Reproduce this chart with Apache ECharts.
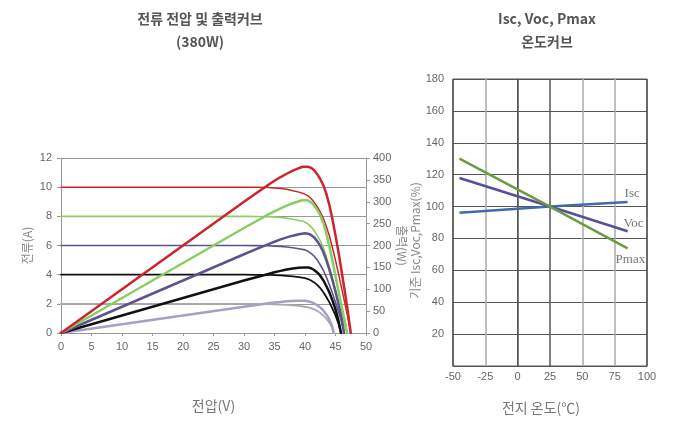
<!DOCTYPE html>
<html>
<head>
<meta charset="utf-8">
<script src="https://cdn.jsdelivr.net/npm/echarts@6/dist/echarts.min.js"></script>
<style>
  html, body { margin: 0; padding: 0; background: #fff; }
  #chart { width: 678px; height: 422px; }
</style>
</head>
<body>
<div id="chart"></div>
<script>
// I-V / P-V curves of a 380 W module at five irradiance levels ([voltage V, value])
const ivRed = [[0,10],[30,10],[32,9.99],[34,9.97],[35,9.95],[36,9.91],[37,9.85],[38,9.76],[39,9.66],[39.7,9.57],[40.5,9.4],[41,9.22],[41.5,8.97],[42,8.66],[42.5,8.3],[43,7.87],[43.5,7.3],[44,6.65],[44.5,5.85],[45,4.98],[45.5,4.05],[46,3.08],[46.5,2.1],[47,1.1],[47.5,0]];
const pvRed = [[0,0],[10,100],[20,200],[30,300],[32,319.5],[34,339],[35,348],[36,356.5],[37,364],[38,371],[39,377],[39.7,380],[40.5,380],[41,377.5],[41.5,372],[42,363],[42.5,352],[43,338],[43.5,318],[44,292],[44.5,260],[45,223],[45.5,184],[46,141],[46.5,97],[47,51],[47.5,0]];
const ivGreen = [[0,8],[30,8],[32,7.99],[34,7.97],[35,7.95],[36,7.92],[37,7.87],[38,7.8],[39,7.72],[39.7,7.66],[40.5,7.48],[41,7.28],[41.5,7.02],[42,6.7],[42.5,6.32],[43,5.85],[43.5,5.22],[44,4.5],[44.5,3.72],[45,2.9],[45.5,2.1],[46,1.32],[46.5,0.6],[46.9,0]];
const pvGreen = [[0,0],[10,80],[20,160],[30,240],[32,255.5],[34,271],[35,278],[36,285],[37,291],[38,296.5],[39,301],[39.7,304],[40.5,303],[41,298.5],[41.5,291],[42,281.5],[42.5,268.5],[43,251.5],[43.5,227],[44,198],[44.5,165.5],[45,130.5],[45.5,95.5],[46,61],[46.5,28],[46.9,0]];
const ivPurple = [[0,6],[30,6],[32,5.99],[34,5.98],[35,5.96],[36,5.94],[37,5.9],[38,5.85],[39,5.78],[40,5.7],[40.5,5.6],[41,5.46],[41.5,5.26],[42,5.0],[42.5,4.68],[43,4.3],[43.5,3.83],[44,3.3],[44.5,2.72],[45,2.1],[45.5,1.45],[46,0.75],[46.4,0]];
const pvPurple = [[0,0],[10,60],[20,120],[30,180],[32,191.5],[34,203],[35,208.5],[36,214],[37,218.5],[38,222.5],[39,225.5],[40,228],[40.5,227],[41,224],[41.5,218.5],[42,210],[42.5,199],[43,185],[43.5,166.5],[44,145],[44.5,121],[45,94.5],[45.5,66],[46,34.5],[46.4,0]];
const ivBlack = [[0,4],[30,4],[32,3.99],[34,3.98],[35,3.97],[36,3.95],[37,3.92],[38,3.88],[39,3.83],[40,3.76],[40.5,3.7],[41,3.6],[41.5,3.47],[42,3.3],[42.5,3.08],[43,2.8],[43.5,2.47],[44,2.1],[44.5,1.67],[45,1.2],[45.5,0.62],[45.9,0]];
const pvBlack = [[0,0],[10,40],[20,80],[30,120],[32,127.5],[34,135],[35,139],[36,142],[37,145],[38,147.5],[39,149],[40,150],[40.5,150],[41,148],[41.5,144],[42,138.5],[42.5,131],[43,120.5],[43.5,107.5],[44,92.5],[44.5,74.5],[45,54],[45.5,28],[45.9,0]];
const ivLight = [[0,2],[30,2],[32,1.99],[34,1.98],[35,1.97],[36,1.95],[37,1.93],[38,1.9],[39,1.86],[40,1.8],[40.5,1.76],[41,1.7],[41.5,1.62],[42,1.52],[42.5,1.38],[43,1.2],[43.5,0.98],[44,0.7],[44.4,0.4],[44.7,0]];
const pvLight = [[0,0],[10,20],[20,40],[30,60],[32,64],[34,68],[35,69.5],[36,71],[37,72.3],[38,73.3],[39,74],[39.5,74],[40,73.6],[40.5,72.5],[41,70.5],[41.5,67.5],[42,63.5],[42.5,58.5],[43,51.5],[43.5,42.5],[44,31],[44.4,18],[44.7,0]];

// Temperature coefficients, percent of the 25 °C value ([cell temperature °C, %])
const tempIsc = [[-45,96.1],[25,100],[85,102.8]];
const tempVoc = [[-45,117.9],[25,100],[85,84.5]];
const tempPmax = [[-45,130],[25,100],[85,73.8]];

const ivTicksX = [0,5,10,15,20,25,30,35,40,45,50];
const tempTicksX = [-50,-25,0,25,50,75,100];

const LABEL = { color: '#666', fontSize: 11, fontFamily: 'Liberation Sans, Arial, sans-serif' };
const NAME = { color: '#888', fontSize: 12, fontFamily: 'Noto Sans CJK KR, sans-serif' };

function curve(data, color, width, yIdx) {
  return {
    type: 'line', xAxisIndex: 0, yAxisIndex: yIdx, data: data,
    showSymbol: false, smooth: false,
    lineStyle: { color: color, width: width, join: 'round', cap: 'round' }, z: yIdx === 1 ? 4 : 3
  };
}
function tempLine(data, color, text, off) {
  return {
    type: 'line', xAxisIndex: 1, yAxisIndex: 2, data: data,
    showSymbol: false, lineStyle: { color: color, width: 2.5 },
    endLabel: { show: true, formatter: text, distance: 0, offset: off,
      color: '#777', fontSize: 13, fontFamily: 'Liberation Serif, Times New Roman, serif' }
  };
}

const chart = echarts.init(document.getElementById('chart'), null, { renderer: 'canvas' });
chart.setOption({
  animation: false,
  backgroundColor: '#fff',
  title: [
    { text: '전류 전압 및 출력커브\n(380W)', left: 195, top: 2, textAlign: 'center',
      textStyle: { fontSize: 14, fontWeight: 'bold', color: '#555', lineHeight: 23, fontFamily: 'Noto Sans CJK KR, sans-serif' } },
    { text: 'Isc, Voc, Pmax\n온도커브', left: 542, top: 2, textAlign: 'center',
      textStyle: { fontSize: 14, fontWeight: 'bold', color: '#555', lineHeight: 23, fontFamily: 'Noto Sans CJK KR, sans-serif' } }
  ],
  grid: [
    { left: 61, width: 305, top: 158, height: 175 },
    { left: 453, width: 194, top: 79, height: 287, show: true, borderColor: '#555', borderWidth: 1 }
  ],
  xAxis: [
    { type: 'value', gridIndex: 0, min: 0, max: 50, interval: 5,
      name: '전압(V)', nameLocation: 'middle', nameGap: 66,
      nameTextStyle: Object.assign({}, NAME, { fontSize: 14, color: '#777' }),
      axisLine: { lineStyle: { color: '#999' } },
      axisTick: { show: true, length: 3, lineStyle: { color: '#999' } },
      axisLabel: Object.assign({ margin: 8, formatter: v => ivTicksX.includes(v) ? String(v) : '' }, LABEL),
      splitLine: { show: false } },
    { type: 'value', gridIndex: 1, min: -50, max: 100, interval: 25,
      name: '전지 온도(℃)', nameLocation: 'middle', nameGap: 35,
      nameTextStyle: Object.assign({}, NAME, { fontSize: 14, color: '#777', padding: [0, 18, 0, 0] }),
      axisLine: { lineStyle: { color: '#555' } },
      axisTick: { show: false },
      axisLabel: Object.assign({ margin: 5, formatter: v => tempTicksX.includes(v) ? String(v) : '' }, LABEL),
      splitLine: { show: true, lineStyle: { color: ['#555', '#aaa', '#555', '#555', '#aaa', '#aaa', '#555'], width: 1.5 } } }
  ],
  yAxis: [
    { type: 'value', gridIndex: 0, min: 0, max: 12, interval: 2, position: 'left',
      name: '전류(A)', nameLocation: 'middle', nameGap: 28, nameRotate: 90,
      nameTextStyle: NAME,
      axisLine: { show: true, lineStyle: { color: '#999' } },
      axisTick: { show: true, length: 4, lineStyle: { color: '#999' } },
      axisLabel: Object.assign({ margin: 9 }, LABEL),
      splitLine: { show: true, lineStyle: { color: '#999', width: 1 } } },
    { type: 'value', gridIndex: 0, min: 0, max: 400, interval: 50, position: 'right',
      name: '출력(W)', nameLocation: 'middle', nameGap: 27, nameRotate: -90,
      nameTextStyle: Object.assign({}, NAME, { padding: [0, 0, 0, 0] }),
      axisLine: { show: true, lineStyle: { color: '#999' } },
      axisTick: { show: true, length: 4, lineStyle: { color: '#999' } },
      axisLabel: Object.assign({ margin: 7 }, LABEL),
      splitLine: { show: false } },
    { type: 'value', gridIndex: 1, min: 0, max: 180, interval: 20,
      name: '기준 Isc,Voc,Pmax(%)', nameLocation: 'middle', nameGap: 30, nameRotate: 90,
      nameTextStyle: Object.assign({}, NAME, { padding: [0, 36, 0, 0] }),
      axisLine: { show: true, lineStyle: { color: '#555' } },
      axisTick: { show: false },
      axisLabel: Object.assign({ margin: 9, formatter: v => v === 0 ? '' : String(v) }, LABEL),
      splitLine: { show: true, lineStyle: { color: '#555', width: 1 } } }
  ],
  series: [
    curve(ivLight, '#aaaaaa', 1.8, 0),
    curve(ivBlack, '#111111', 1.8, 0),
    curve(ivPurple, '#5d5190', 1.6, 0),
    curve(ivGreen, '#86cf60', 1.6, 0),
    curve(ivRed, '#c8262e', 1.5, 0),
    curve(pvLight, '#a69fc8', 2.5, 1),
    curve(pvBlack, '#111111', 2.5, 1),
    curve(pvPurple, '#5d5190', 2.5, 1),
    curve(pvGreen, '#86cf60', 2.5, 1),
    curve(pvRed, '#cf232d', 2.5, 1),
    tempLine(tempIsc, '#3f6ca5', 'Isc', [-3, -9]),
    tempLine(tempVoc, '#574f9c', 'Voc', [-4, -8]),
    tempLine(tempPmax, '#6b9c45', 'Pmax', [-12, 11])
  ]
});
</script>
</body>
</html>
